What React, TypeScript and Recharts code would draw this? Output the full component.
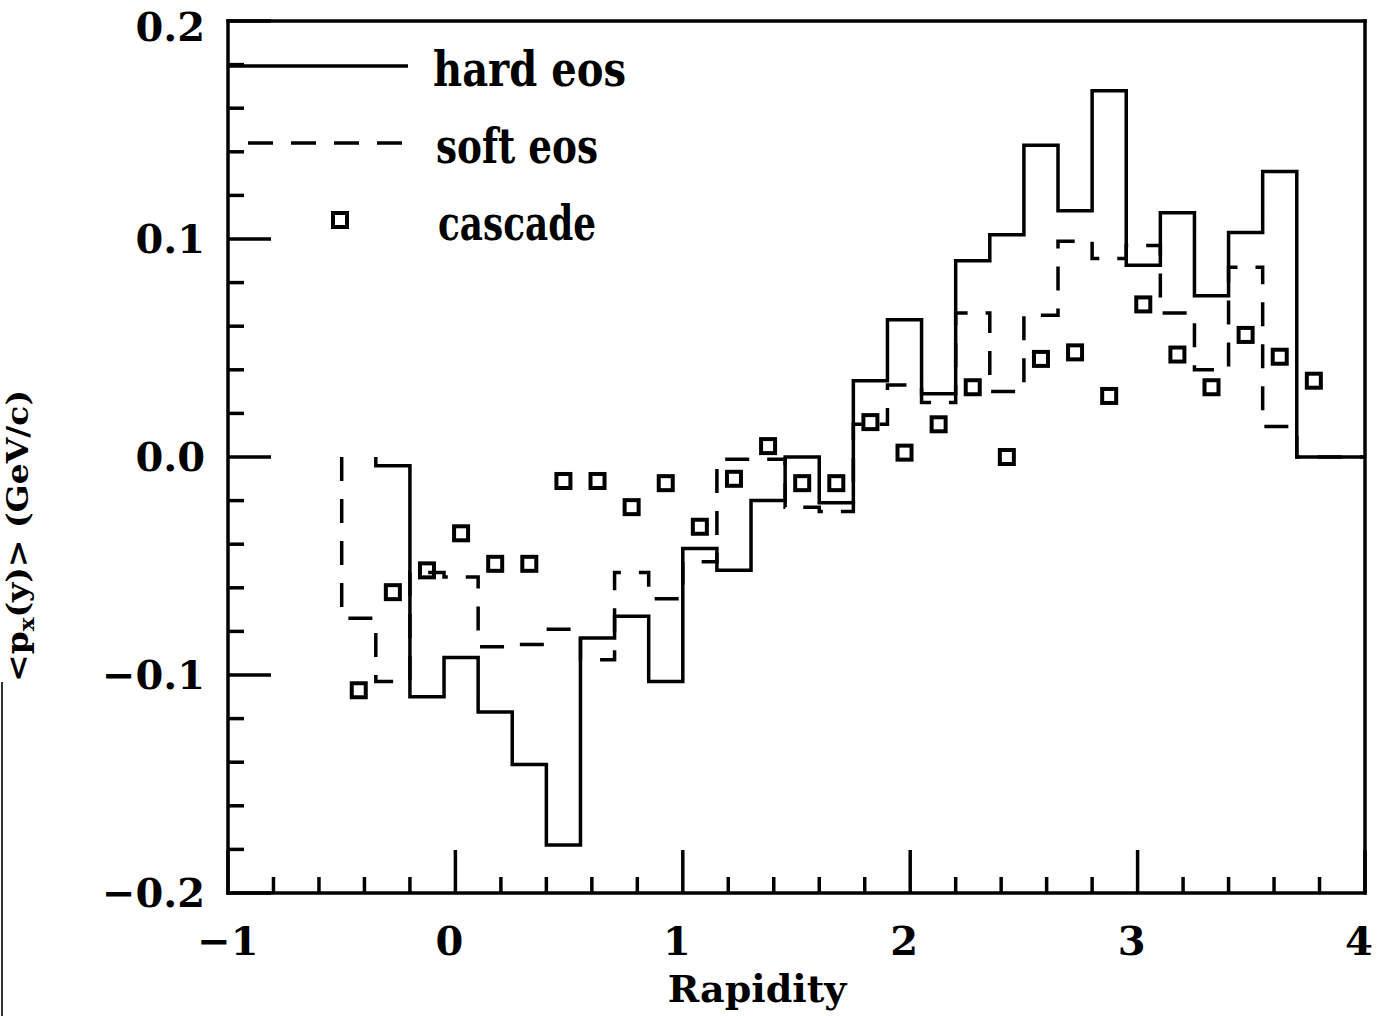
import React from "react";
import { ComposedChart, Line, Scatter, XAxis, YAxis, Legend } from "recharts";

const FONT = "'DejaVu Serif', serif";
const INK = "#000";

// histogram bins are 0.15 units of rapidity wide
const BIN = 0.15;

// <p_x> per bin, hard eos (first bin starts at y = -0.35)
const HARD_START = -0.35;
const hardEos = [
  -0.004, -0.11, -0.092, -0.117, -0.141, -0.178, -0.083, -0.073, -0.103, -0.042,
  -0.052, -0.02, 0.0, -0.021, 0.035, 0.063, 0.029, 0.09, 0.102, 0.143,
  0.113, 0.168, 0.088, 0.112, 0.074, 0.103, 0.131, 0.0, 0.0,
];

// soft eos (first bin starts at y = -0.5)
const SOFT_START = -0.5;
const softEos = [
  -0.074, -0.103, -0.053, -0.055, -0.087, -0.086, -0.079, -0.093, -0.053, -0.065,
  -0.048, -0.001, -0.001, -0.023, -0.025, 0.015, 0.033, 0.025, 0.066, 0.03,
  0.065, 0.099, 0.091, 0.097, 0.066, 0.04, 0.087, 0.014, 0.0, 0.0,
];

// cascade, one point per bin centre (first centre at y = -0.425)
const CASCADE_START = -0.425;
const cascade = [
  -0.107, -0.062, -0.052, -0.035, -0.049, -0.049, -0.011, -0.011, -0.023, -0.012,
  -0.032, -0.01, 0.005, -0.012, -0.012, 0.016, 0.002, 0.015, 0.032, 0.0,
  0.045, 0.048, 0.028, 0.07, 0.047, 0.032, 0.056, 0.046, 0.035,
];

const xTicks = [
  -1, -0.8, -0.6, -0.4, -0.2, 0, 0.2, 0.4, 0.6, 0.8, 1, 1.2, 1.4, 1.6, 1.8, 2,
  2.2, 2.4, 2.6, 2.8, 3, 3.2, 3.4, 3.6, 3.8, 4,
];
const yTicks = [
  -0.2, -0.18, -0.16, -0.14, -0.12, -0.1, -0.08, -0.06, -0.04, -0.02, 0,
  0.02, 0.04, 0.06, 0.08, 0.1, 0.12, 0.14, 0.16, 0.18, 0.2,
];
const xLabels = [-1, 0, 1, 2, 3, 4];
const yLabels = [-0.2, -0.1, 0, 0.1, 0.2];

// outline of a histogram: drops from zero at the first edge, closes at the last edge
const stepPoints = (start: number, values: number[]) => {
  const pts = [{ x: start, y: 0 }];
  values.forEach((v, i) => pts.push({ x: start + i * BIN, y: v }));
  pts.push({ x: start + values.length * BIN, y: values[values.length - 1] });
  return pts;
};

const hardPts = stepPoints(HARD_START, hardEos);
const softPts = stepPoints(SOFT_START, softEos);
const cascadePts = cascade.map((v, i) => ({ x: CASCADE_START + i * BIN, y: v }));

const isIn = (list: number[], v: number) => list.some((t) => Math.abs(t - v) < 1e-9);
const fmtX = (v: number) => (v < 0 ? "\u2212" : "") + Math.abs(v).toString();
const fmtY = (v: number) => (v < -1e-9 ? "\u2212" : "") + Math.abs(v).toFixed(1);

const MAJOR = 43;
const MINOR = 16;
const TICK_W = 3.5;

const textStyle = { fontFamily: FONT, fontWeight: 700, fill: INK } as const;

const BottomTick = ({ x, y, payload }: any) => {
  const v = payload.value;
  const major = isIn(xLabels, v);
  return (
    <g>
      <line x1={x} x2={x} y1={y} y2={y - (major ? MAJOR : MINOR)} stroke={INK} strokeWidth={TICK_W} />
      {major && (
        <text x={v < 0 ? x : x - 6} y={y + 62} textAnchor="middle" fontSize={40} style={textStyle}>
          {fmtX(v)}
        </text>
      )}
    </g>
  );
};

const TopTick = ({ x, y, payload }: any) => {
  const major = isIn(xLabels, payload.value);
  return <line x1={x} x2={x} y1={y} y2={y + (major ? MAJOR : MINOR)} stroke={INK} strokeWidth={TICK_W} />;
};

const LeftTick = ({ x, y, payload }: any) => {
  const v = payload.value;
  const major = isIn(yLabels, v);
  // the top label sits a little below the frame corner
  const ty = v > 0.19 ? y + 6 : y;
  return (
    <g>
      <line x1={x} x2={x + (major ? MAJOR : MINOR)} y1={y} y2={y} stroke={INK} strokeWidth={TICK_W} />
      {major && (
        <text x={x - 23} y={ty} dy="0.36em" textAnchor="end" fontSize={40} style={textStyle}>
          {fmtY(v)}
        </text>
      )}
    </g>
  );
};

const RightTick = ({ x, y, payload }: any) => {
  const major = isIn(yLabels, payload.value);
  return <line x1={x} x2={x - (major ? MAJOR : MINOR)} y1={y} y2={y} stroke={INK} strokeWidth={TICK_W} />;
};

const XTitle = () => (
  <text x={757} y={1002} textAnchor="middle" fontSize={38} style={textStyle}>
    Rapidity
  </text>
);

const YTitle = () => (
  <g>
    <text
      x={28}
      y={536}
      transform="rotate(-90 28 536)"
      textAnchor="middle"
      fontSize={30}
      textLength={292}
      lengthAdjust="spacingAndGlyphs"
      style={textStyle}
    >
      {"<p"}
      <tspan fontSize={21} dy={6}>x</tspan>
      <tspan dy={-6}>{"(y)> (GeV/c)"}</tspan>
    </text>
    <line x1={2} x2={2} y1={682} y2={1016} stroke="#333" strokeWidth={2} />
  </g>
);

const SquareMark = ({ cx, cy }: any) => (
  <rect x={cx - 7} y={cy - 7} width={14} height={14} fill="none" stroke={INK} strokeWidth={4} />
);

// legend rows sit inside the frame, top-left; one row per legend icon type
const ROW: Record<string, { y: number; x: number; len: number }> = {
  line: { y: 36, x: 205, len: 193 },
  plainline: { y: 113, x: 208, len: 162 },
  square: { y: 190, x: 210, len: 158 },
};

const LegendBox = ({ payload }: any) => (
  <svg width={440} height={240} style={{ display: "block", overflow: "visible" }}>
    {(payload || []).map((entry: any) => {
      const row = ROW[entry.type] || ROW.square;
      const y = row.y;
      let icon: React.ReactNode;
      if (entry.type === "line") {
        icon = <line x1={0} x2={180} y1={y} y2={y} stroke={INK} strokeWidth={3.5} />;
      } else if (entry.type === "plainline") {
        icon = <line x1={20} x2={174} y1={y} y2={y} stroke={INK} strokeWidth={3.5} strokeDasharray="25 18" />;
      } else {
        icon = <rect x={105} y={y - 7} width={14} height={14} fill="none" stroke={INK} strokeWidth={4} />;
      }
      return (
        <g key={entry.value}>
          {icon}
          <text
            x={row.x}
            y={y + 20}
            fontSize={48}
            textLength={row.len}
            lengthAdjust="spacingAndGlyphs"
            style={textStyle}
          >
            {entry.value}
          </text>
        </g>
      );
    })}
  </svg>
);

const frame = { stroke: INK, strokeWidth: 3.5, strokeLinecap: "square" as const };

export default function App() {
  return (
    <div style={{ position: "absolute", left: 0, top: 0, background: "#fff" }}>
      <ComposedChart
        width={1381}
        height={1016}
        margin={{ top: 20, right: 15, bottom: 122, left: 227 }}
      >
        <XAxis
          dataKey="x"
          type="number"
          domain={[-1, 4]}
          ticks={xTicks}
          interval={0}
          height={1}
          tickSize={0}
          tickMargin={0}
          tickLine={false}
          axisLine={frame}
          tick={<BottomTick />}
          label={<XTitle />}
        />
        <XAxis
          xAxisId="top"
          orientation="top"
          type="number"
          domain={[-1, 4]}
          ticks={xTicks}
          interval={0}
          height={1}
          tickSize={0}
          tickMargin={0}
          tickLine={false}
          axisLine={frame}
          tick={<TopTick />}
        />
        <YAxis
          dataKey="y"
          type="number"
          domain={[-0.2, 0.2]}
          ticks={yTicks}
          interval={0}
          width={1}
          tickSize={0}
          tickMargin={0}
          tickLine={false}
          axisLine={frame}
          tick={<LeftTick />}
          label={<YTitle />}
        />
        <YAxis
          yAxisId="right"
          orientation="right"
          type="number"
          domain={[-0.2, 0.2]}
          ticks={yTicks}
          interval={0}
          width={1}
          tickSize={0}
          tickMargin={0}
          tickLine={false}
          axisLine={frame}
          tick={<RightTick />}
        />
        <Legend
          layout="vertical"
          align="center"
          verticalAlign="middle"
          content={<LegendBox />}
          wrapperStyle={{ left: 228, top: 30, width: 440, height: 240 }}
        />
        <Line
          data={hardPts}
          dataKey="y"
          name="hard eos"
          legendType="line"
          type="stepAfter"
          stroke={INK}
          strokeWidth={3.5}
          dot={false}
          activeDot={false}
          isAnimationActive={false}
        />
        <Line
          data={softPts}
          dataKey="y"
          name="soft eos"
          legendType="plainline"
          type="stepAfter"
          stroke={INK}
          strokeWidth={3.5}
          strokeDasharray="24 18"
          dot={false}
          activeDot={false}
          isAnimationActive={false}
        />
        <Scatter
          data={cascadePts}
          dataKey="y"
          name="cascade"
          legendType="square"
          shape={<SquareMark />}
          isAnimationActive={false}
        />
      </ComposedChart>
    </div>
  );
}
